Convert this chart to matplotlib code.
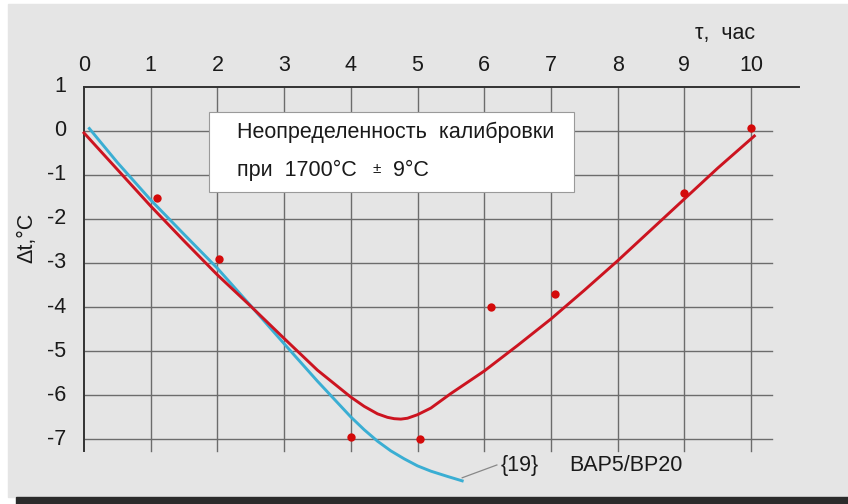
import matplotlib
matplotlib.use('Agg')
import matplotlib.pyplot as plt
from matplotlib.patches import Rectangle

plt.rcParams['font.family'] = ['Liberation Sans', 'DejaVu Sans']

#########################################################
### Data

x_ticks = [0, 1, 2, 3, 4, 5, 6, 7, 8, 9, 10]
y_ticks = [1, 0, -1, -2, -3, -4, -5, -6, -7]

# calibration drift, red curve
red_t = [0, 0.5, 1, 1.5, 2, 2.5, 3, 3.5, 4, 4.2, 4.4, 4.55, 4.65, 4.75,
         4.85, 5.0, 5.2, 5.5, 6, 6.5, 7, 7.5, 8, 8.5, 9, 9.5, 10.05]
red_dt = [-0.05, -0.88, -1.71, -2.5, -3.27, -3.98, -4.71, -5.43, -6.04,
          -6.25, -6.42, -6.5, -6.53, -6.54, -6.52, -6.44, -6.29, -5.96,
          -5.45, -4.87, -4.27, -3.62, -2.95, -2.25, -1.55, -0.85, -0.12]

# measured points
pts_t = [1.1, 2.02, 4.0, 5.03, 6.1, 7.06, 9.0, 10.0]
pts_dt = [-1.53, -2.92, -6.95, -6.98, -4.0, -3.71, -1.41, 0.07]

# reference curve {19} BAP5/BP20
blue_t = [0.08, 0.5, 1, 1.5, 2, 2.5, 3, 3.5, 4, 4.2, 4.4, 4.6, 4.8, 5.0,
          5.2, 5.45, 5.67]
blue_dt = [0.05, -0.72, -1.57, -2.35, -3.12, -3.97, -4.83, -5.68, -6.49,
           -6.78, -7.04, -7.26, -7.44, -7.6, -7.72, -7.84, -7.94]

#########################################################
### Figure

W, H = 848, 504
fig = plt.figure(figsize=(W / 100, H / 100), dpi=100)
fig.patch.set_facecolor('white')

# grey panel and dark strip along the bottom
fig.add_artist(Rectangle((8 / W, 7 / H), (W - 8) / W, (H - 11) / H,
                         transform=fig.transFigure, color='#e5e5e5', zorder=0))
fig.add_artist(Rectangle((16 / W, 0), (W - 16) / W, 7 / H,
                         transform=fig.transFigure, color='#2b2b2b', zorder=0))

# axes cover the whole figure, pixel -> data mapping set by limits
x0, sx = 84.0, 66.7
y0, sy = 130.7, 44.1
ax = fig.add_axes([0, 0, 1, 1])
ax.set_xlim(-x0 / sx, (W - x0) / sx)
ax.set_ylim((y0 - H) / sy, y0 / sy)
ax.axis('off')

grid_c = '#6c6c6c'
txt_c = '#1a1a1a'
fs = 15.5
y_bottom = -7.27

# grid
for t in x_ticks[1:]:
    ax.plot([t, t], [1, y_bottom], color=grid_c, lw=1.0, zorder=1)
for v in y_ticks[1:]:
    ax.plot([0, 10.31], [v, v], color=grid_c, lw=1.0, zorder=1)

# frame: top line and left axis
ax.plot([0, 10.72], [1, 1], color='#333333', lw=1.4, zorder=2)
ax.plot([0, 0], [1, y_bottom], color='#333333', lw=1.4, zorder=2)

# tick labels
for t in x_ticks:
    ax.text(t, 1.47, str(t), ha='center', va='center', fontsize=fs, color=txt_c)
for v in y_ticks:
    ax.text(-0.27, v, str(v), ha='right', va='center', fontsize=fs, color=txt_c)

ax.text(10.06, 2.21, 'τ,  час', ha='right', va='center', fontsize=fs, color=txt_c)
ax.text(-0.86, -2.43, 'Δt,°C', ha='center', va='center', rotation=90,
        fontsize=fs, color=txt_c)

# annotation box
ax.add_patch(Rectangle((1.88, -1.38), 5.46, 1.81, facecolor='white',
                       edgecolor='#9a9a9a', lw=0.8, zorder=3))
ax.text(2.29, -0.17, 'Неопределенность  калибровки', ha='left', va='baseline',
        fontsize=fs, color=txt_c, zorder=4)
ax.text(2.29, -1.03, 'при  1700°C', ha='left', va='baseline',
        fontsize=fs, color=txt_c, zorder=4)
ax.text(4.33, -0.97, '±', ha='left', va='baseline',
        fontsize=11, color=txt_c, zorder=4)
ax.text(4.63, -1.03, '9°C', ha='left', va='baseline',
        fontsize=fs, color=txt_c, zorder=4)

# curves
ax.plot(blue_t, blue_dt, color='#3aaed3', lw=2.1, zorder=5)
ax.plot(red_t, red_dt, color='#cc1420', lw=2.1, zorder=6)
ax.plot(pts_t, pts_dt, 'o', color='#d40a0a', ms=6, mec='none', zorder=7)

# leader to the reference curve label
ax.plot([5.67, 6.19], [-7.87, -7.58], color='#888888', lw=0.9, zorder=5)
ax.text(6.24, -7.6, '{19}', ha='left', va='center', fontsize=fs, color=txt_c)
ax.text(7.27, -7.6, 'BAP5/BP20', ha='left', va='center', fontsize=fs, color=txt_c)

fig.savefig('out.png', dpi=100, facecolor=fig.get_facecolor())
